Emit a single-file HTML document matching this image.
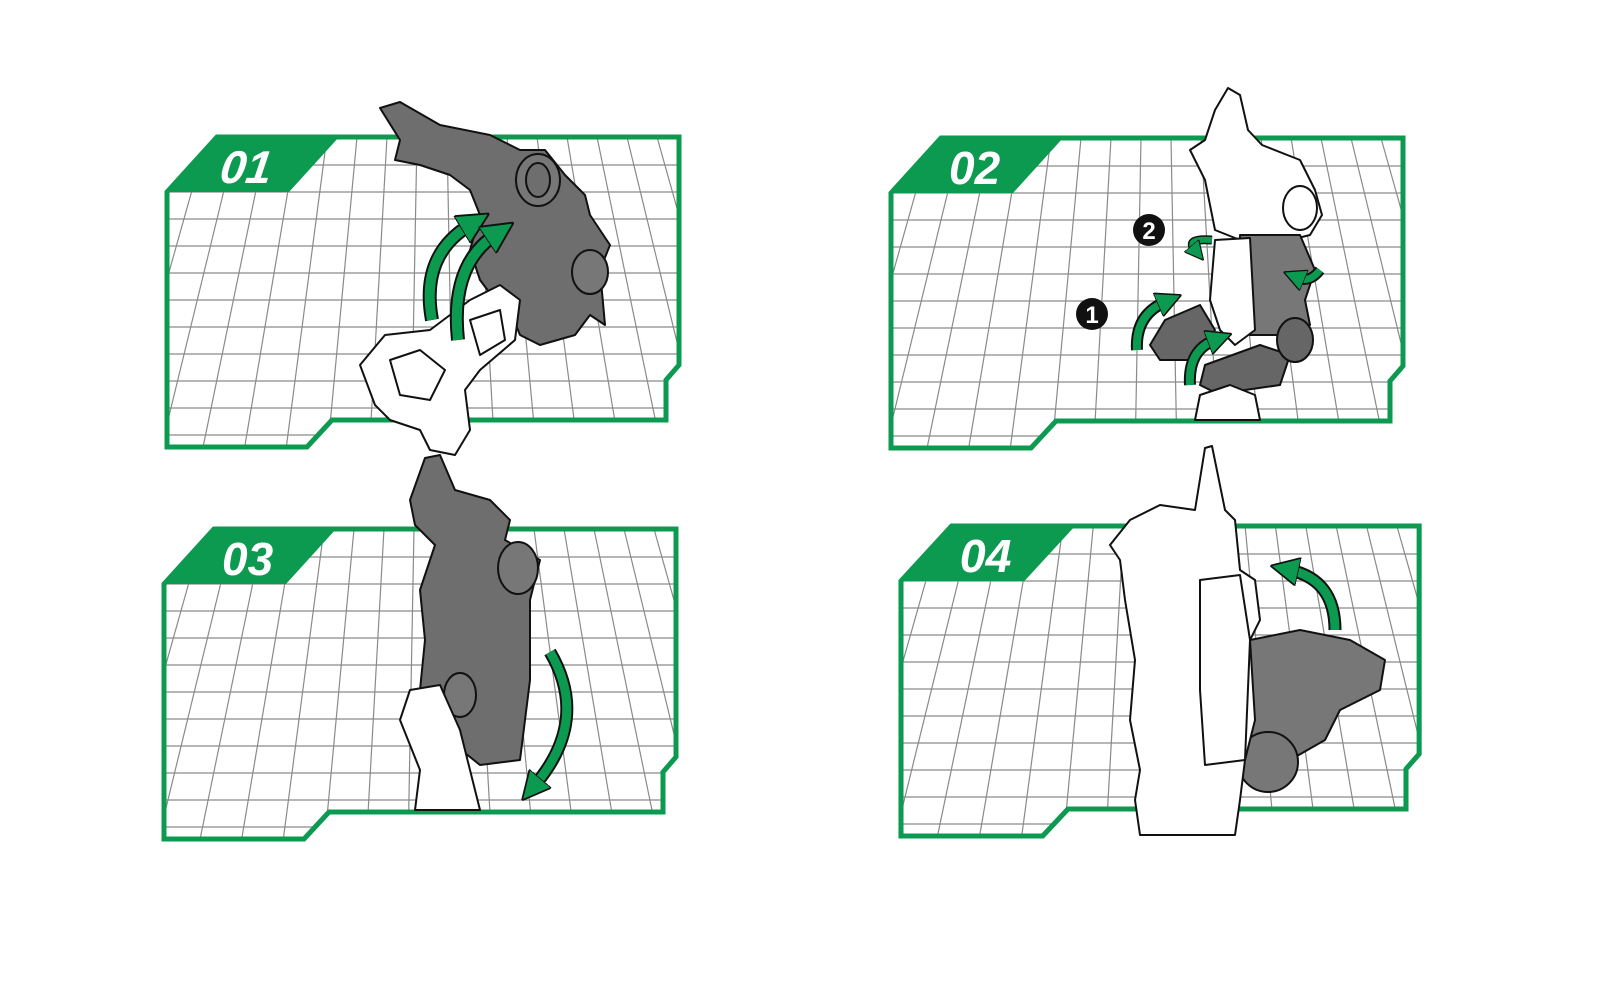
<!DOCTYPE html>
<html><head><meta charset="utf-8"><style>
html,body{margin:0;padding:0;background:#fff;}
svg{display:block}
text{font-family:"Liberation Sans",sans-serif;}
</style></head><body>
<svg width="1600" height="1000" viewBox="0 0 1600 1000" xmlns="http://www.w3.org/2000/svg">
<defs>
<clipPath id="pc"><path d="M0,55 L50,0 L512,0 L512,228 L499,243 L499,283 L165,283 L140,310 L0,310 Z"/></clipPath>
<g id="grid" stroke="#8a8a8a" stroke-width="1.2" fill="none">
<path d="M0,28H520M0,55H520M0,82H520M0,109H520M0,136H520M0,163H520M0,190H520M0,217H520M0,244H520M0,271H520M0,298H520"/>
<path d="M10,0L-90,320M40,0L-50,320M70,0L-8,320M100,0L34,320M130,0L76,320M160,0L118,320M190,0L160,320M220,0L202,320M250,0L244,320M280,0L286,320M310,0L328,320M340,0L370,320M370,0L412,320M400,0L454,320M430,0L496,320M460,0L538,320M490,0L580,320"/>
</g>
<g id="panel">
<g clip-path="url(#pc)"><rect x="0" y="0" width="520" height="320" fill="#fff"/><use href="#grid"/></g>
<path d="M0,55 L50,0 L512,0 L512,228 L499,243 L499,283 L165,283 L140,310 L0,310 Z" fill="none" stroke="#0b9a4f" stroke-width="5" stroke-linejoin="miter"/>
<polygon points="0,55 50,0 172,0 122,55" fill="#0b9a4f"/>
</g>
<marker id="ah" viewBox="0 0 10 10" refX="3" refY="5" markerWidth="3.2" markerHeight="3.2" orient="auto"><path d="M0,0 L10,5 L0,10 Z" fill="#0b9a4f" stroke="#111" stroke-width="0.6"/></marker>
</defs>

<!-- Panels -->
<g transform="translate(167,137)"><use href="#panel"/><text x="58" y="46" fill="#fff" font-size="46" font-weight="bold" font-style="italic" transform="skewX(-8)">01</text></g>
<g transform="translate(891,138)"><use href="#panel"/><text x="58" y="46" fill="#fff" font-size="46" font-weight="bold" font-style="italic">02</text></g>
<g transform="translate(164,529)"><use href="#panel"/><text x="58" y="46" fill="#fff" font-size="46" font-weight="bold" font-style="italic">03</text></g>
<g transform="translate(901,526) scale(1.012,1)"><use href="#panel"/><text x="58" y="46" fill="#fff" font-size="46" font-weight="bold" font-style="italic">04</text></g>

<!-- Panel 01 robot -->
<g stroke="#111" stroke-width="2" stroke-linejoin="round">
<path d="M380,108 L400,102 L440,125 L490,135 L520,150 L545,150 L565,175 L585,195 L590,215 L610,245 L600,270 L605,325 L590,315 L575,335 L540,345 L520,335 L510,310 L495,300 L480,280 L470,250 L480,215 L470,190 L450,175 L420,165 L395,160 L400,140 Z" fill="#6e6e6e"/>
<ellipse cx="538" cy="180" rx="22" ry="26" fill="#777"/><ellipse cx="538" cy="180" rx="12" ry="17" fill="#6e6e6e"/>
<ellipse cx="590" cy="272" rx="18" ry="22" fill="#777"/>
<path d="M360,365 L385,335 L430,330 L470,300 L500,285 L520,300 L515,340 L480,370 L465,390 L470,430 L455,455 L430,450 L420,430 L390,420 L375,405 Z" fill="#fff"/>
<path d="M390,360 L420,350 L445,370 L430,400 L400,395 Z M470,320 L500,310 L505,340 L480,355 Z" fill="#fff"/>
</g>
<g fill="none" stroke-linecap="butt">
<path d="M432,320 Q420,255 470,225" stroke="#111" stroke-width="14"/>
<path d="M432,320 Q420,255 470,225" stroke="#0b9a4f" stroke-width="10" marker-end="url(#ah)"/>
<path d="M458,340 Q450,265 495,235" stroke="#111" stroke-width="14"/>
<path d="M458,340 Q450,265 495,235" stroke="#0b9a4f" stroke-width="10" marker-end="url(#ah)"/>
</g>

<!-- Panel 02 robot -->
<g stroke="#111" stroke-width="2" stroke-linejoin="round">
<path d="M1228,88 L1240,95 L1248,130 L1262,145 L1300,160 L1315,190 L1322,215 L1310,235 L1290,240 L1280,250 L1270,235 L1240,240 L1215,230 L1210,205 L1205,180 L1190,150 L1205,140 L1215,110 Z" fill="#fff"/>
<ellipse cx="1300" cy="208" rx="17" ry="22" fill="#fff"/>
<path d="M1240,235 L1300,235 L1315,270 L1305,300 L1310,325 L1290,335 L1250,335 L1238,300 Z" fill="#777"/>
<path d="M1215,240 L1250,238 L1255,330 L1235,345 L1220,330 L1210,300 Z" fill="#fff"/>
<path d="M1165,320 L1200,305 L1215,330 L1195,360 L1160,360 L1150,345 Z" fill="#666"/>
<path d="M1205,365 L1260,345 L1290,355 L1280,385 L1245,390 L1220,395 L1200,385 Z" fill="#666"/>
<ellipse cx="1295" cy="340" rx="18" ry="22" fill="#666"/>
<path d="M1200,395 L1230,385 L1255,395 L1260,420 L1195,420 Z" fill="#fff"/>
</g>
<circle cx="1149" cy="230" r="16" fill="#111"/><text x="1149" y="239" text-anchor="middle" fill="#fff" font-size="24" font-weight="bold">2</text>
<circle cx="1092" cy="314" r="16" fill="#111"/><text x="1092" y="323" text-anchor="middle" fill="#fff" font-size="24" font-weight="bold">1</text>
<g fill="none">
<path d="M1137,350 Q1135,315 1165,302" stroke="#111" stroke-width="12"/>
<path d="M1137,350 Q1135,315 1165,302" stroke="#0b9a4f" stroke-width="8" marker-end="url(#ah)"/>
<path d="M1190,385 Q1188,350 1215,340" stroke="#111" stroke-width="12"/>
<path d="M1190,385 Q1188,350 1215,340" stroke="#0b9a4f" stroke-width="8" marker-end="url(#ah)"/>
<path d="M1320,270 Q1310,283 1298,278" stroke="#111" stroke-width="11"/>
<path d="M1320,270 Q1310,283 1298,278" stroke="#0b9a4f" stroke-width="7" marker-end="url(#ah)"/>
<path d="M1212,240 Q1185,238 1195,250" stroke="#111" stroke-width="9"/>
<path d="M1212,240 Q1185,238 1195,250" stroke="#0b9a4f" stroke-width="6" marker-end="url(#ah)"/>
</g>

<!-- Panel 03 robot -->
<g stroke="#111" stroke-width="2" stroke-linejoin="round">
<path d="M425,458 L440,455 L455,490 L490,500 L510,520 L505,540 L540,560 L530,600 L530,680 L520,760 L480,765 L455,745 L430,730 L420,690 L425,640 L420,590 L435,545 L415,525 L410,500 Z" fill="#6e6e6e"/>
<ellipse cx="518" cy="568" rx="20" ry="26" fill="#777"/>
<ellipse cx="460" cy="695" rx="16" ry="22" fill="#777"/>
<path d="M410,690 L440,685 L460,730 L470,770 L480,810 L415,810 L420,770 L400,720 Z" fill="#fff"/>
</g>
<g fill="none">
<path d="M550,652 Q590,720 535,785" stroke="#111" stroke-width="13"/>
<path d="M550,652 Q590,720 535,785" stroke="#0b9a4f" stroke-width="9" marker-end="url(#ah)"/>
</g>

<!-- Panel 04 robot -->
<g stroke="#111" stroke-width="2" stroke-linejoin="round">
<path d="M1250,640 L1300,630 L1350,640 L1385,660 L1380,690 L1340,710 L1325,740 L1290,760 L1260,760 L1245,720 Z" fill="#777"/>
<ellipse cx="1268" cy="762" rx="30" ry="30" fill="#777"/>
<path d="M1205,448 L1212,446 L1225,510 L1235,520 L1240,570 L1255,580 L1260,620 L1250,640 L1255,720 L1245,760 L1240,800 L1235,835 L1140,835 L1135,800 L1140,770 L1130,720 L1135,660 L1125,600 L1120,560 L1110,545 L1130,520 L1160,505 L1195,510 Z" fill="#fff"/>
<path d="M1200,580 L1240,575 L1250,640 L1245,760 L1205,765 L1200,690 Z" fill="#fff"/>
</g>
<g fill="none">
<path d="M1335,630 Q1335,580 1290,570" stroke="#111" stroke-width="13"/>
<path d="M1335,630 Q1335,580 1290,570" stroke="#0b9a4f" stroke-width="9" marker-end="url(#ah)"/>
</g>
</svg>
</body></html>
